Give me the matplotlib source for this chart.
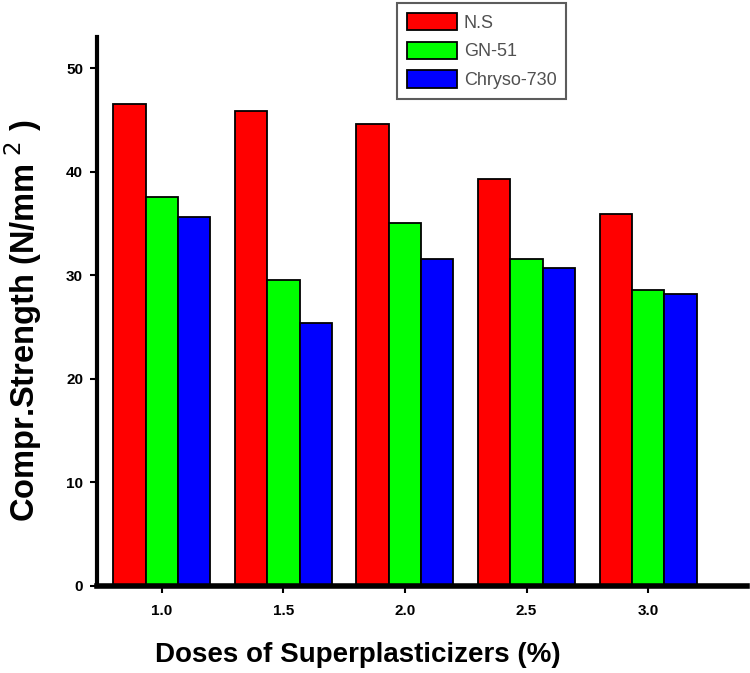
import numpy as np
import matplotlib.pyplot as plt

plt.rcParams['font.family'] = ['Liberation Sans', 'DejaVu Sans']

doses = [1.0, 1.5, 2.0, 2.5, 3.0]
tick_labels = ['1.0', '1.5', '2.0', '2.5', '3.0']
ns = [46.5, 45.9, 44.6, 39.3, 35.9]
gn51 = [37.6, 29.5, 35.0, 31.6, 28.6]
chryso = [35.6, 25.4, 31.6, 30.7, 28.2]
series_names = ['N.S', 'GN-51', 'Chryso-730']
colors = ['#ff0000', '#00ff00', '#0000ff']

fig = plt.figure(figsize=(7.5, 6.73), dpi=100)
ax = fig.add_axes([0.1293, 0.1293, 0.8667, 0.8157])

x = np.array(doses)
w = 0.133
for i, (vals, name, c) in enumerate(zip([ns, gn51, chryso], series_names, colors)):
    ax.bar(x + (i - 1) * w, vals, width=w, color=c, edgecolor='black',
           linewidth=1.3, label=name, zorder=2)

ax.set_xlim(0.733, 3.407)
ax.set_ylim(0, 53)
ax.set_xticks(doses)
ax.set_xticklabels(tick_labels)
ax.set_yticks([0, 10, 20, 30, 40, 50])

for s in ['top', 'right']:
    ax.spines[s].set_visible(False)
ax.spines['left'].set_linewidth(3)
ax.spines['bottom'].set_linewidth(4)
ax.tick_params(axis='x', direction='out', length=5, width=1.5, labelsize=11, pad=8)
ax.tick_params(axis='y', direction='out', length=5, width=1.5, labelsize=11, pad=5)
for lab in ax.get_xticklabels() + ax.get_yticklabels():
    lab.set_fontweight('bold')

# label centres are not at the axes centre in the original
ax.set_xlabel('Doses of Superplasticizers (%)', fontsize=20, fontweight='bold')
ax.xaxis.set_label_coords((358 - 97) / 650, -(642 - 586) / 549)
ax.set_ylabel('Compr.Strength (N/mm$^{\\ 2}$ )', fontsize=23.5, fontweight='bold')
ax.yaxis.set_label_coords(-(97 - 44) / 650, (586 - 321) / 549)

leg = ax.legend(loc='upper left', bbox_to_anchor=(397 / 750, 1 - 3 / 673),
                bbox_transform=fig.transFigure, fontsize=13, frameon=True,
                fancybox=False, handlelength=2.8, handleheight=1.1,
                labelspacing=0.55, borderpad=0.55, handletextpad=0.35,
                borderaxespad=0)
leg.get_frame().set_edgecolor('#333333')
leg.get_frame().set_linewidth(1.5)
for t in leg.get_texts():
    t.set_color('#505050')

fig.savefig('out.png', dpi=100)
